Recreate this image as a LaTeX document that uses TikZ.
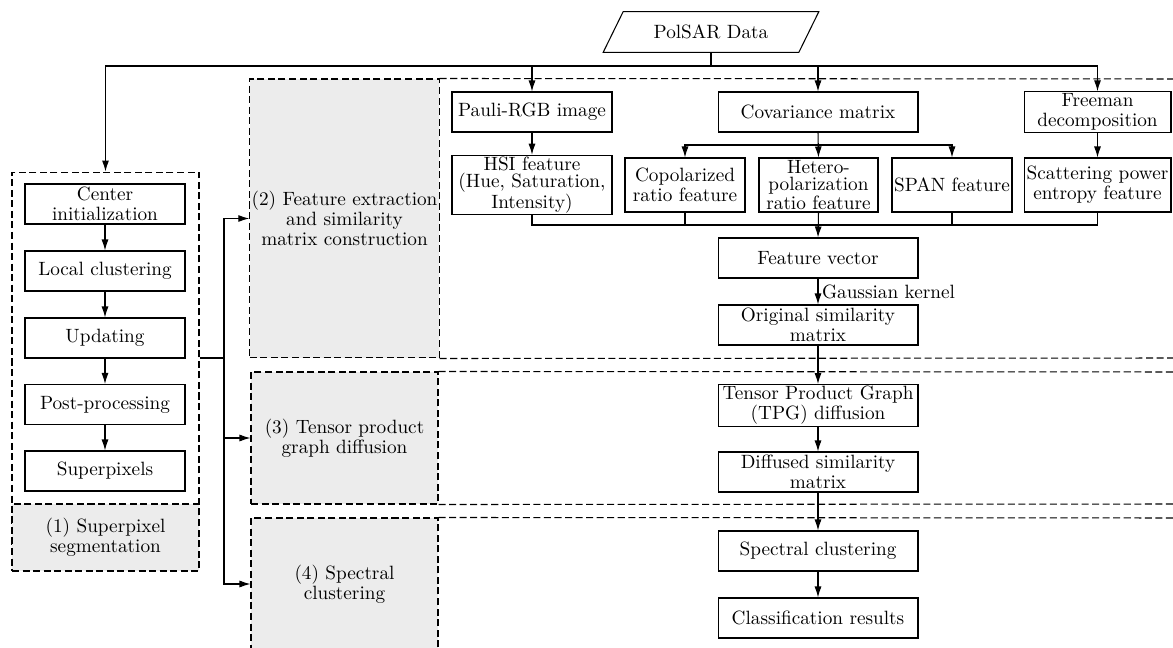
\documentclass[tikz,border=0pt]{standalone}
\usetikzlibrary{arrows.meta}
\begin{document}
\begin{tikzpicture}[x=0.02cm,y=-0.02cm,
  every node/.style={align=center,inner sep=1pt,font=\fontsize{10.95}{11.4}\selectfont},
  box/.style={draw,line width=0.6pt,minimum height=0.8cm},
  tight/.style={font=\fontsize{10.95}{9.5}\selectfont},
  dsh/.style={line width=0.6pt,dash pattern=on 4pt off 2pt},
  stage/.style={dsh,draw,fill=gray!15},
  arr/.style={line width=0.6pt,-{Latex[length=2.2mm,width=1.4mm]}},
  ln/.style={line width=0.6pt}]
\clip (0,0) rectangle (1173,648);
\fill[white] (0,0) rectangle (1173,648);
% group 1
\node[dsh,draw,minimum width=3.74cm,minimum height=7.98cm] (g1) at (105.5,371.5) {};
\node[stage,minimum width=3.74cm,minimum height=1.34cm] (s1) at (105.5,537.5) {(1) Superpixel\\segmentation};
\node[box,minimum width=3.2cm] (ci) at (105,204) {Center\\initialization};
\node[box,minimum width=3.2cm] (lc) at (105,271) {Local clustering};
\node[box,minimum width=3.2cm] (up) at (105,338) {Updating};
\node[box,minimum width=3.2cm] (pp) at (105,404.5) {Post-processing};
\node[box,minimum width=3.2cm] (sp) at (105,471) {Superpixels};
\draw[arr] (ci) -- (lc);
\draw[arr] (lc) -- (up);
\draw[arr] (up) -- (pp);
\draw[arr] (pp) -- (sp);
% stages
\node[stage,minimum width=3.74cm,minimum height=5.58cm] (s2) at (344.5,218.5) {(2) Feature extraction\\and similarity\\matrix construction};
\node[stage,minimum width=3.74cm,minimum height=2.64cm] (s3) at (344.5,438) {(3) Tensor product\\graph diffusion};
\node[stage,minimum width=3.74cm,minimum height=2.64cm] (s4) at (344.5,584) {(4) Spectral\\clustering};
\draw[dsh] (s2.north east) -- (1180,79);
\draw[dsh] (s2.south east) -- (1180,358);
\draw[dsh] (s3.north east) -- (1180,372);
\draw[dsh] (s3.south east) -- (1180,504);
\draw[dsh] (s4.north east) -- (1180,518);
% connection from group 1
\coordinate (jn) at (224,358);
\draw[ln] (g1.east|-jn) -- (jn);
\draw[arr] (jn) |- (s2.west);
\draw[arr] (jn) |- (s3.west);
\draw[arr] (jn) |- (s4.west);
% PolSAR data
\node[minimum width=3.9cm,minimum height=0.8cm] (pd) at (711,32) {PolSAR Data};
\draw[ln] ([xshift=2mm]pd.north west) -- ([xshift=2mm]pd.north east) -- ([xshift=-2mm]pd.south east) -- ([xshift=-2mm]pd.south west) -- cycle;
% stage 2 boxes
\node[box,minimum width=3.2cm] (pauli) at (532,112) {Pauli-RGB image};
\node[box,minimum width=4cm] (cov) at (818,112) {Covariance matrix};
\node[box,minimum width=2.94cm] (free) at (1097.5,112) {Freeman\\decomposition};
\node[box,tight,minimum width=3.2cm,minimum height=1.08cm] (hsi) at (532,185) {HSI feature\\(Hue, Saturation,\\Intensity)};
\node[box,minimum width=2.4cm,minimum height=1.08cm] (cop) at (685,185) {Copolarized\\ratio feature};
\node[box,tight,minimum width=2.38cm,minimum height=1.08cm] (het) at (818.5,185) {Hetero-\\polarization\\ratio feature};
\node[box,minimum width=2.4cm,minimum height=1.08cm] (span) at (952,185) {SPAN feature};
\node[box,minimum width=2.94cm,minimum height=1.08cm] (scat) at (1097.5,185) {Scattering power\\entropy feature};
\node[box,minimum width=4cm] (fv) at (818,258) {Feature vector};
\node[box,minimum width=4cm] (osm) at (818,325) {Original similarity\\matrix};
\node[box,minimum width=4cm] (tpg) at (818,405.5) {Tensor Product Graph\\(TPG) diffusion};
\node[box,minimum width=4cm] (dsm) at (818,472) {Diffused similarity\\matrix};
\node[box,minimum width=4cm] (sc) at (818,551) {Spectral clustering};
\node[box,minimum width=4cm] (cr) at (818,618) {Classification results};
% top bus
\coordinate (bt) at (0,66);
\draw[ln] (pd.south) -- (pd.south|-bt);
\draw[arr] (pd.south|-bt) -| (g1.north);
\draw[arr] (pd.south|-bt) -| (free.north);
\draw[arr] (pauli.north|-bt) -- (pauli.north);
\draw[arr] (cov.north|-bt) -- (cov.north);
% covariance bus
\coordinate (bc) at (0,145);
\draw[arr] (cov.south) -- (het.north);
\draw[arr] (cov.south|-bc) -| (cop.north);
\draw[arr] (cov.south|-bc) -| (span.north);
\draw[arr] (pauli) -- (hsi);
\draw[arr] (free) -- (scat);
% bottom bus
\coordinate (bb) at (0,225);
\draw[ln] (hsi.south) -- (hsi.south|-bb) -- (scat.south|-bb) -- (scat.south);
\draw[ln] (cop.south) -- (cop.south|-bb);
\draw[ln] (span.south) -- (span.south|-bb);
\draw[arr] (het.south) -- (fv.north);
\draw[arr] (fv) -- node[right,xshift=1pt] {Gaussian kernel} (osm);
\draw[arr] (osm) -- (tpg);
\draw[arr] (tpg) -- (dsm);
\draw[arr] (dsm) -- (sc);
\draw[arr] (sc) -- (cr);
\end{tikzpicture}
\end{document}
